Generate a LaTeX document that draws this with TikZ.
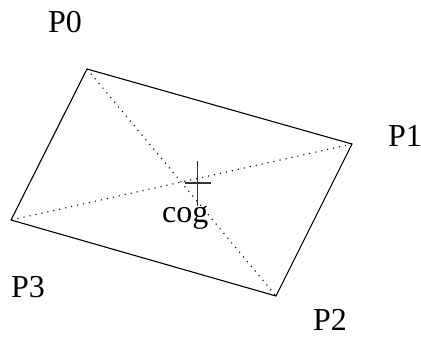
\documentclass[tikz,border=0pt]{standalone}
\usepackage{fontspec}
\setmainfont{Liberation Serif}
\tikzset{
  edge/.style={line width=1.1pt, line join=miter},
  diag/.style={line width=1.1pt, dash pattern=on 1.1pt off 5pt},
  crossline/.style={line width=1.1pt, black!80},
  lbl/.style={inner sep=0pt, anchor=base west, text depth=0pt, font=\fontsize{32}{38}\selectfont}
}
\begin{document}
\begin{tikzpicture}[x=1pt,y=-1pt]
\useasboundingbox (0,0) rectangle (421,338);
\coordinate (p0) at (87,69);
\coordinate (p1) at (352,144);
\coordinate (p2) at (276,296);
\coordinate (p3) at (11,220);
\coordinate (cog) at (197.5,183);
\draw[diag] (p0) -- (p2);
\draw[diag] (p1) -- (p3);
\draw[edge] (p0) -- (p1) -- (p2) -- (p3) -- cycle;
\draw[crossline] ([xshift=-13pt]cog) -- ([xshift=13pt]cog);
\draw[crossline] ([yshift=-23pt]cog) -- ([yshift=22pt]cog);
\node[lbl] (l0) at (48,32.5) {P0};
\node[lbl] (l1) at (388,146) {P1};
\node[lbl] (l2) at (313,330) {P2};
\node[lbl] (l3) at (11,297) {P3};
\node[lbl] (lc) at (162,222) {cog};
\end{tikzpicture}
\end{document}
